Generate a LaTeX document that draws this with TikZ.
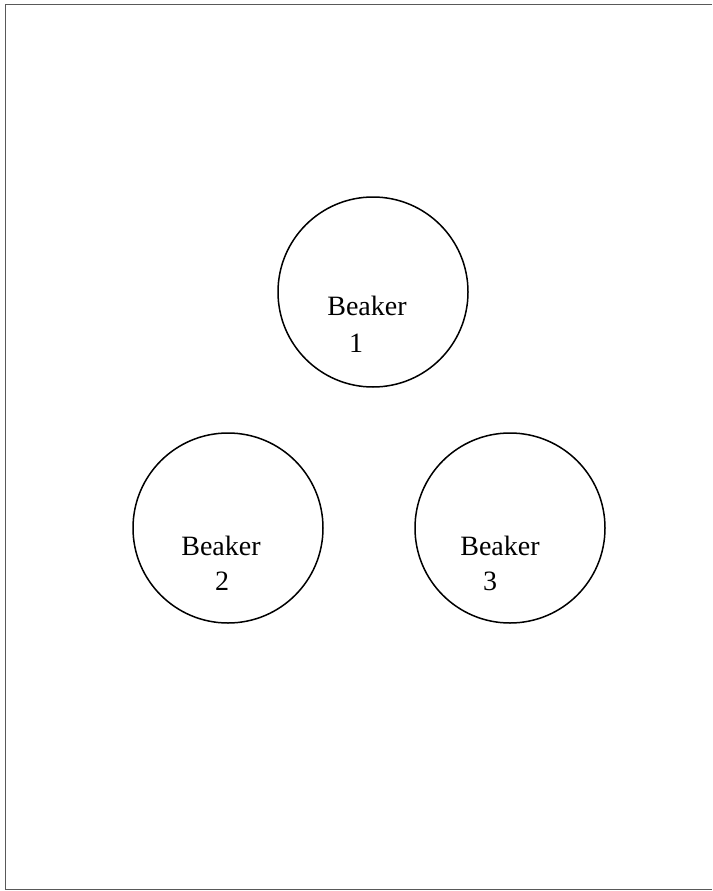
\documentclass[tikz,border=0pt]{standalone}
\usepackage{fontspec}
\setmainfont{Liberation Serif}
\begin{document}
\begin{tikzpicture}[x=1pt,y=-1pt,
  beaker/.style={draw=black, line width=1.5pt, circle, inner sep=0pt, minimum size=190pt},
  lbl/.style={font=\fontsize{28}{36}\selectfont, inner sep=0pt, anchor=base}]
\useasboundingbox (0,0) rectangle (712,891);
\draw[gray!70!black, line width=1pt] (712,4.5) -- (5,4.5) -- (5,889) -- (712,889);
\node[beaker] (b1) at (373,292) {};
\node[beaker] (b2) at (228,528) {};
\node[beaker] (b3) at (510,528) {};
\node[lbl] (t1) at (367,315) {Beaker};
\node[lbl] (n1) at (356,352) {1};
\node[lbl] (t2) at (221,555) {Beaker};
\node[lbl] (n2) at (222,590) {2};
\node[lbl] (t3) at (500,555) {Beaker};
\node[lbl] (n3) at (490,590) {3};
\end{tikzpicture}
\end{document}
